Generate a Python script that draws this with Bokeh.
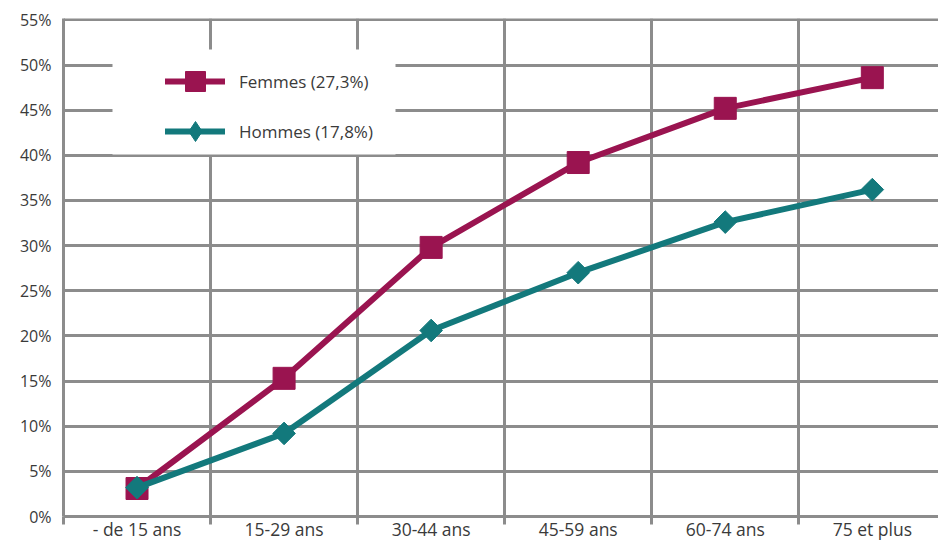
from bokeh.plotting import figure
from bokeh.models import Range1d, FixedTicker, Legend, LegendItem, BoxAnnotation, ColumnDataSource
from bokeh.embed import file_html
from bokeh.resources import INLINE

categories = ["- de 15 ans", "15-29 ans", "30-44 ans", "45-59 ans", "60-74 ans", "75 et plus"]
femmes = [3.1, 15.3, 29.8, 39.2, 45.2, 48.6]
hommes = [3.2, 9.2, 20.6, 27.0, 32.6, 36.2]
femmes_label = "Femmes (27,3%)"
hommes_label = "Hommes (17,8%)"
y_ticks = [0, 5, 10, 15, 20, 25, 30, 35, 40, 45, 50, 55]

FONT = "Open Sans"
GRID = "#8c8c8c"
TXT = "#3a3a3a"
C_F = "#9a1450"
C_H = "#13797c"

centers = [i + 0.5 for i in range(len(categories))]
bounds = list(range(len(categories) + 1))

p = figure(width=938, height=543, output_backend="svg", toolbar_location=None,
           x_range=Range1d(0, 5.95), y_range=Range1d(0, 55.15),
           min_border_left=63, min_border_right=0, min_border_top=18, min_border_bottom=26)
p.outline_line_color = None
p.background_fill_color = "white"
p.border_fill_color = "white"

# grids
p.xgrid.ticker = FixedTicker(ticks=bounds)
p.ygrid.ticker = FixedTicker(ticks=y_ticks)
for g in (p.xgrid, p.ygrid):
    g.grid_line_color = GRID
    g.grid_line_width = 3

# white box behind legend (screen units relative to frame, from bottom-left)
p.add_layout(BoxAnnotation(left=49, right=332, top=467, bottom=362,
                           left_units="screen", right_units="screen",
                           top_units="screen", bottom_units="screen",
                           fill_color="white", fill_alpha=1, line_color=None,
                           level="underlay"))

# x axis
p.xaxis.ticker = FixedTicker(ticks=centers, minor_ticks=bounds)
p.xaxis.major_label_overrides = {c: lab for c, lab in zip(centers, categories)}
p.xaxis.major_tick_line_color = None
p.xaxis.major_tick_out = 0
p.xaxis.major_tick_in = 0
p.xaxis.minor_tick_line_color = GRID
p.xaxis.minor_tick_line_width = 3
p.xaxis.minor_tick_out = 8
p.xaxis.minor_tick_in = 0
p.xaxis.major_label_standoff = -8
p.xaxis.axis_line_color = GRID
p.xaxis.axis_line_width = 3

# y axis
p.yaxis.ticker = FixedTicker(ticks=y_ticks)
p.yaxis.major_label_overrides = {t: f"{t}%" for t in y_ticks}
p.yaxis.major_tick_line_color = None
p.yaxis.major_tick_out = 0
p.yaxis.minor_tick_line_color = None
p.yaxis.major_label_standoff = 12
p.yaxis.axis_line_color = GRID
p.yaxis.axis_line_width = 3

p.xaxis.major_label_text_font_size = "17.5px"
p.yaxis.major_label_text_font_size = "16px"
for ax in (p.xaxis, p.yaxis):
    ax.major_label_text_font = FONT
    ax.major_label_text_color = TXT

src = ColumnDataSource(dict(x=centers, f=femmes, h=hommes))
lf = p.line("x", "f", source=src, line_color=C_F, line_width=6, line_cap="round")
sf = p.scatter("x", "f", source=src, marker="square", size=22, fill_color=C_F, line_color=C_F)
lh = p.line("x", "h", source=src, line_color=C_H, line_width=6, line_cap="round")
sh = p.scatter("x", "h", source=src, marker="square", angle=0.7854, size=16,
               fill_color=C_H, line_color=C_H)
# hidden renderer used only for the legend's diamond glyph
sh_leg = p.scatter("x", "h", source=src, marker="diamond",
                   size=20, fill_color=C_H, line_color=C_H, visible=False)

legend = Legend(items=[LegendItem(label=femmes_label, renderers=[lf, sf]),
                       LegendItem(label=hommes_label, renderers=[lh, sh_leg])],
                location=(102, 360), orientation="vertical",
                glyph_width=60, glyph_height=50, spacing=0, padding=0, margin=0,
                label_standoff=14, label_text_font=FONT, label_text_font_size="17px",
                label_text_color=TXT, border_line_color=None, background_fill_alpha=0,
                inactive_fill_alpha=0)
p.add_layout(legend)

open("out.html", "w").write(file_html(p, INLINE))
